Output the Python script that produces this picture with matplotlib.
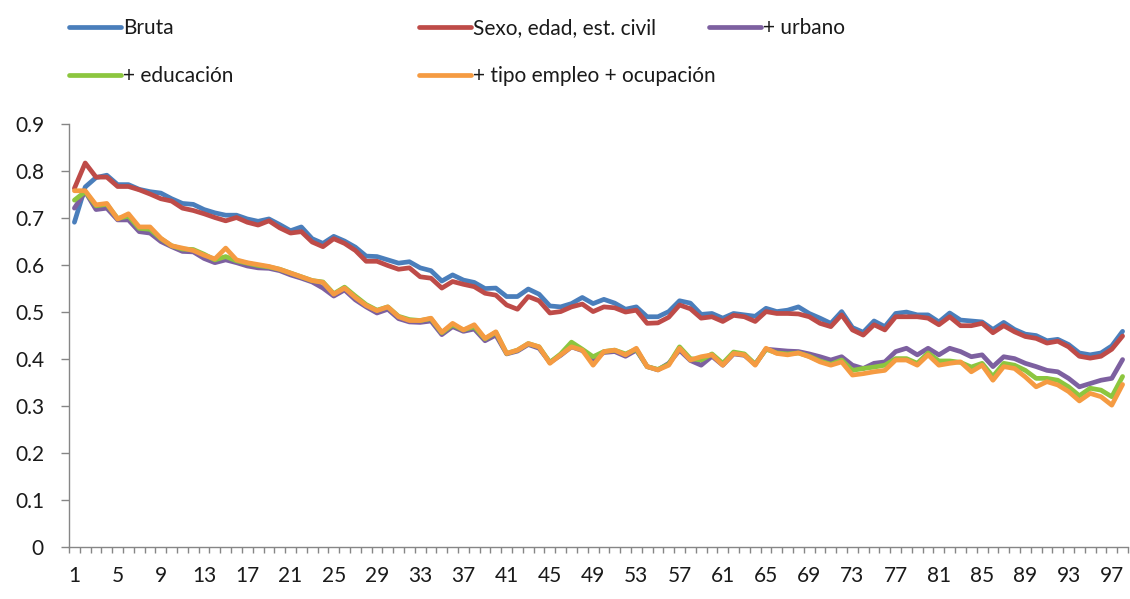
import numpy as np
import matplotlib
matplotlib.use("Agg")
import matplotlib.pyplot as plt

plt.rcParams['font.family'] = ['Lato', 'DejaVu Sans']

# categories 1..98
periodos = np.arange(1, 99)

bruta = [0.69, 0.765, 0.785, 0.79, 0.77, 0.77, 0.76, 0.755, 0.752, 0.74,
         0.73, 0.728, 0.717, 0.71, 0.705, 0.705, 0.697, 0.692, 0.697, 0.685,
         0.672, 0.68, 0.655, 0.645, 0.66, 0.65, 0.637, 0.618, 0.617, 0.61,
         0.603, 0.606, 0.593, 0.587, 0.565, 0.578, 0.567, 0.562, 0.549, 0.55,
         0.532, 0.532, 0.548, 0.537, 0.512, 0.51, 0.517, 0.53, 0.517, 0.526,
         0.518, 0.505, 0.51, 0.489, 0.489, 0.5, 0.523, 0.518, 0.494, 0.496,
         0.486, 0.496, 0.493, 0.49, 0.507, 0.5, 0.503, 0.51, 0.496, 0.486,
         0.475, 0.5, 0.466, 0.456, 0.48, 0.468, 0.496, 0.499, 0.493, 0.493,
         0.478, 0.497, 0.482, 0.48, 0.478, 0.462, 0.477, 0.462, 0.452, 0.449,
         0.438, 0.441, 0.43, 0.412, 0.408, 0.412, 0.427, 0.458]

sexo_edad = [0.762, 0.816, 0.786, 0.786, 0.766, 0.766, 0.759, 0.75, 0.74, 0.735,
             0.72, 0.715, 0.708, 0.70, 0.693, 0.70, 0.69, 0.684, 0.693, 0.678,
             0.667, 0.67, 0.648, 0.638, 0.655, 0.645, 0.63, 0.607, 0.607, 0.598,
             0.59, 0.593, 0.574, 0.571, 0.55, 0.564, 0.558, 0.553, 0.539, 0.535,
             0.514, 0.505, 0.532, 0.523, 0.497, 0.5, 0.51, 0.516, 0.5, 0.51,
             0.508, 0.499, 0.503, 0.475, 0.476, 0.488, 0.514, 0.506, 0.486, 0.489,
             0.479, 0.492, 0.489, 0.479, 0.5, 0.496, 0.496, 0.495, 0.489, 0.475,
             0.468, 0.493, 0.461, 0.45, 0.472, 0.461, 0.489, 0.489, 0.489, 0.486,
             0.472, 0.489, 0.47, 0.47, 0.475, 0.455, 0.47, 0.457, 0.447, 0.443,
             0.433, 0.437, 0.425, 0.405, 0.401, 0.405, 0.42, 0.448]

urbano = [0.72, 0.755, 0.717, 0.72, 0.695, 0.695, 0.67, 0.667, 0.649, 0.638,
          0.628, 0.627, 0.613, 0.604, 0.61, 0.604, 0.597, 0.593, 0.592, 0.587,
          0.578, 0.571, 0.563, 0.55, 0.533, 0.546, 0.525, 0.51, 0.497, 0.505,
          0.485, 0.478, 0.477, 0.48, 0.451, 0.468, 0.458, 0.463, 0.438, 0.45,
          0.41, 0.416, 0.43, 0.422, 0.392, 0.407, 0.425, 0.417, 0.398, 0.413,
          0.415, 0.405, 0.418, 0.383, 0.376, 0.39, 0.418, 0.396, 0.386, 0.405,
          0.386, 0.41, 0.407, 0.388, 0.42, 0.418, 0.416, 0.415, 0.41, 0.404,
          0.397, 0.404, 0.386, 0.379, 0.39, 0.393, 0.415, 0.422, 0.408, 0.422,
          0.408, 0.422, 0.415, 0.404, 0.408, 0.383, 0.404, 0.40, 0.39, 0.383,
          0.375, 0.372, 0.358, 0.34, 0.347, 0.354, 0.358, 0.398]

educacion = [0.737, 0.755, 0.725, 0.728, 0.698, 0.703, 0.677, 0.675, 0.655, 0.64,
             0.633, 0.632, 0.622, 0.61, 0.617, 0.608, 0.603, 0.598, 0.595, 0.59,
             0.582, 0.574, 0.566, 0.563, 0.538, 0.552, 0.533, 0.515, 0.503, 0.51,
             0.49, 0.483, 0.481, 0.485, 0.455, 0.472, 0.461, 0.468, 0.442, 0.456,
             0.411, 0.418, 0.432, 0.425, 0.392, 0.41, 0.435, 0.42, 0.404, 0.415,
             0.418, 0.41, 0.42, 0.383, 0.377, 0.388, 0.425, 0.40, 0.397, 0.41,
             0.39, 0.414, 0.41, 0.388, 0.42, 0.412, 0.41, 0.412, 0.405, 0.395,
             0.388, 0.397, 0.375, 0.379, 0.382, 0.386, 0.40, 0.40, 0.39, 0.412,
             0.395, 0.395, 0.392, 0.382, 0.39, 0.362, 0.39, 0.386, 0.375, 0.358,
             0.358, 0.354, 0.34, 0.321, 0.337, 0.333, 0.319, 0.362]

empleo_ocup = [0.757, 0.757, 0.727, 0.73, 0.697, 0.708, 0.68, 0.68, 0.656, 0.64,
               0.635, 0.63, 0.62, 0.612, 0.635, 0.61, 0.604, 0.60, 0.596, 0.59,
               0.582, 0.574, 0.566, 0.562, 0.537, 0.55, 0.53, 0.513, 0.502, 0.51,
               0.489, 0.481, 0.481, 0.486, 0.456, 0.475, 0.461, 0.472, 0.443, 0.457,
               0.411, 0.418, 0.432, 0.425, 0.39, 0.408, 0.425, 0.418, 0.386, 0.415,
               0.418, 0.408, 0.422, 0.383, 0.376, 0.386, 0.422, 0.397, 0.404, 0.408,
               0.386, 0.411, 0.408, 0.386, 0.422, 0.411, 0.408, 0.412, 0.404, 0.393,
               0.386, 0.393, 0.365, 0.368, 0.372, 0.375, 0.397, 0.397, 0.386, 0.408,
               0.386, 0.39, 0.393, 0.372, 0.386, 0.354, 0.383, 0.379, 0.361, 0.34,
               0.351, 0.344, 0.33, 0.31, 0.326, 0.319, 0.301, 0.345]

nombres = ['Bruta', 'Sexo, edad, est. civil', '+ urbano',
           '+ educación', '+ tipo empleo + ocupación']
series = [bruta, sexo_edad, urbano, educacion, empleo_ocup]
colores = ['#4A7EBB', '#BE4B48', '#7D60A0', '#8CC63F', '#F59B42']

xtick_labels = [str(p) for p in periodos[::4]]
yticks = [0, 0.1, 0.2, 0.3, 0.4, 0.5, 0.6, 0.7, 0.8, 0.9]
ytick_labels = ['0', '0.1', '0.2', '0.3', '0.4', '0.5', '0.6', '0.7', '0.8', '0.9']

fig = plt.figure(figsize=(11.3, 5.99), dpi=100)
ax = fig.add_axes([69 / 1130, 52.3 / 599, 1059 / 1130, 423.2 / 599])

lineas = []
for s, c, n in zip(series, colores, nombres):
    l, = ax.plot(periodos, s, color=c, lw=3.4, label=n,
                 solid_joinstyle='round', solid_capstyle='round')
    lineas.append(l)

ax.set_xlim(0.5, 98.5)
ax.set_ylim(0, 0.9)

# category boundaries as tick marks, labels every 4 periods
ax.set_xticks(np.arange(0.5, 99, 1))
ax.set_xticklabels([])
ax.tick_params(axis='x', which='major', length=4.5, width=1, color='#868686', direction='out')
ax.set_xticks(periodos[::4], minor=True)
ax.set_xticklabels(xtick_labels, minor=True)
ax.tick_params(axis='x', which='minor', length=0, pad=14, labelsize=15, labelcolor='#1a1a1a')

ax.set_yticks(yticks)
ax.set_yticklabels(ytick_labels)
ax.tick_params(axis='y', length=6, width=1, color='#868686', pad=12,
               labelsize=15, labelcolor='#1a1a1a')

for side in ['top', 'right']:
    ax.spines[side].set_visible(False)
for side in ['left', 'bottom']:
    ax.spines[side].set_color('#868686')
    ax.spines[side].set_linewidth(1)

# legend, laid out as in the original (two rows, fixed columns)
pos_leyenda = [(69, 28), (419, 28), (709, 28), (69, 76), (419, 76)]
for l, (px, py) in zip(lineas, pos_leyenda):
    fig.legend(handles=[l], loc='center left',
               bbox_to_anchor=(px / 1130, 1 - py / 599),
               frameon=False, fontsize=15, handlelength=2.5,
               handletextpad=0.1, borderaxespad=0, borderpad=0,
               labelcolor='#1a1a1a')

fig.savefig('out.png', dpi=100)
